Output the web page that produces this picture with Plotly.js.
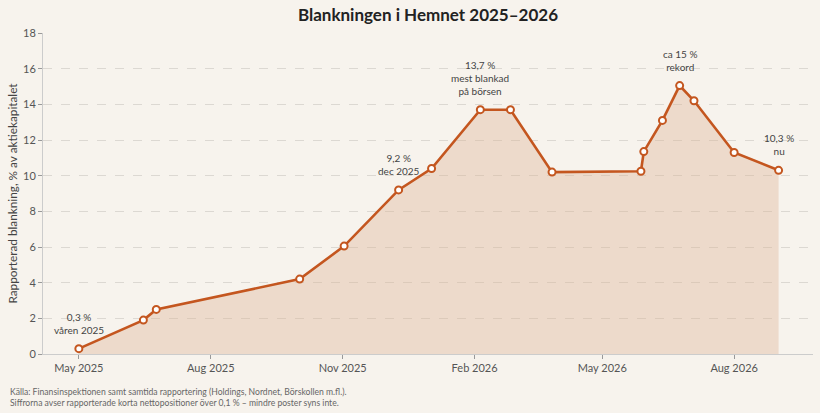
<!DOCTYPE html>
<html>
<head>
<meta charset="utf-8">
<script src="https://cdn.plot.ly/plotly-3.0.1.min.js"></script>
<style>
html,body{margin:0;padding:0;background:#f7f3ed;}
#chart{width:820px;height:413px;}
</style>
</head>
<body>
<div id="chart"></div>
<script>
// Data
const dates = ["2025-05-01","2025-06-15","2025-06-24","2025-10-02","2025-11-02","2025-12-10","2026-01-02","2026-02-05","2026-02-26","2026-03-27","2026-05-28","2026-05-30","2026-06-12","2026-06-24","2026-07-04","2026-08-01","2026-09-01"];
const values = [0.3,1.9,2.5,4.2,6.05,9.2,10.4,13.7,13.7,10.2,10.25,11.35,13.1,15.05,14.2,11.3,10.3];

const noteDates = ["2025-05-01","2025-12-10","2026-02-05","2026-06-24","2026-09-01"];
const noteValues = [0.3,9.2,13.7,15.05,10.3];
const noteTexts = ["0,3 %<br>våren 2025","9,2 %<br>dec 2025","13,7 %<br>mest blankad<br>på börsen","ca 15 %<br>rekord","10,3 %<br>nu"];

const titleText = "Blankningen i Hemnet 2025–2026";
const yTitle = "Rapporterad blankning, % av aktiekapitalet";
const sourceText = "Källa: Finansinspektionen samt samtida rapportering (Holdings, Nordnet, Börskollen m.fl.).<br>Siffrorna avser rapporterade korta nettopositioner över 0,1 % – mindre poster syns inte.";

const FONT = "Lato, 'Source Sans Pro', 'Noto Sans', sans-serif";

const trace = {
  x: dates, y: values, type: "scatter", mode: "lines+markers",
  fill: "tozeroy", fillcolor: "rgba(222,178,148,0.38)",
  line: {color: "#c4561f", width: 2.6},
  marker: {size: 7, color: "#ffffff", line: {color: "#c4561f", width: 2}},
  hoverinfo: "skip"
};

const annotations = noteDates.map((d, i) => ({
  x: d, y: noteValues[i], xref: "x", yref: "y",
  text: noteTexts[i], showarrow: false, yanchor: "bottom", yshift: 11,
  font: {family: FONT, size: 10, color: "#444"}
}));
annotations.push({
  xref: "paper", yref: "paper", x: -0.046, y: -0.098, xanchor: "left", yanchor: "top", align: "left",
  text: sourceText, showarrow: false,
  font: {family: FONT, size: 8.6, color: "#666"}
});

const layout = {
  width: 820, height: 413,
  paper_bgcolor: "#f7f3ed", plot_bgcolor: "#f7f3ed",
  margin: {l: 43, r: 7, t: 33, b: 59},
  font: {family: FONT, color: "#555"},
  title: {text: "<b>" + titleText + "</b>", x: 0.5, xref: "paper", y: 0.963, yanchor: "middle",
          font: {family: FONT, size: 17, color: "#222"}},
  showlegend: false,
  xaxis: {
    type: "date", range: ["2025-04-06", "2026-09-25"],
    tick0: "2025-05-01", dtick: "M3", tickformat: "%b %Y",
    ticks: "outside", ticklen: 4, tickcolor: "#999",
    showline: true, linecolor: "#ccc", linewidth: 1,
    showgrid: false, zeroline: false,
    tickfont: {family: FONT, size: 11, color: "#555"}
  },
  yaxis: {
    range: [0, 18], dtick: 2,
    ticks: "outside", ticklen: 4, tickcolor: "#999",
    showline: true, linecolor: "#ccc", linewidth: 1,
    showgrid: true, gridcolor: "#dcd8d2", griddash: "dash", gridwidth: 1,
    zeroline: false,
    tickfont: {family: FONT, size: 11, color: "#555"},
    title: {text: yTitle, standoff: 2, font: {family: FONT, size: 11.8, color: "#444"}}
  },
  annotations: annotations
};

Plotly.newPlot("chart", [trace], layout, {displayModeBar: false, staticPlot: true});
</script>
</body>
</html>
